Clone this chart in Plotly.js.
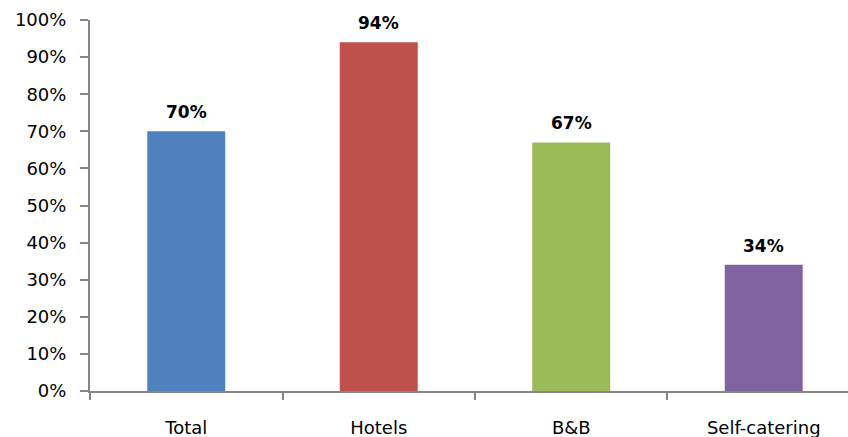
<!DOCTYPE html>
<html>
<head>
<meta charset="utf-8">
<script src="https://cdn.plot.ly/plotly-3.0.1.min.js"></script>
<style>html,body{margin:0;padding:0;background:#fff;}</style>
</head>
<body>
<div id="chart" style="width:848px;height:437px;"></div>
<script>
const categories = ["Total", "Hotels", "B&B", "Self-catering"];
const values = [70, 94, 67, 34];
const barColors = ["#4F81BD", "#C0504D", "#9BBB59", "#8064A2"];
const yTickVals = [0, 10, 20, 30, 40, 50, 60, 70, 80, 90, 100];

const trace = {
  type: "bar",
  x: categories,
  y: values,
  marker: {color: barColors},
  hoverinfo: "none"
};

const annotations = categories.map((c, i) => ({
  x: c,
  y: values[i],
  xref: "x",
  yref: "y",
  text: values[i] + "%",
  showarrow: false,
  yanchor: "bottom",
  yshift: 7,
  font: {family: "DejaVu Sans, sans-serif", size: 17, color: "#000", weight: "bold"}
}));

const layout = {
  width: 848,
  height: 437,
  margin: {l: 90, r: 0, t: 20, b: 46},
  paper_bgcolor: "#fff",
  plot_bgcolor: "#fff",
  showlegend: false,
  bargap: 0.595,
  annotations: annotations,
  font: {family: "DejaVu Sans, sans-serif", size: 18, color: "#000"},
  xaxis: {
    type: "category",
    range: [-0.5, 3.4377],
    showline: true,
    linecolor: "#868686",
    linewidth: 2,
    ticks: "outside",
    tickson: "boundaries",
    ticklen: 7,
    tickwidth: 2,
    tickcolor: "#868686",
    showgrid: false,
    zeroline: false,
    ticklabelstandoff: 19,
    tickfont: {family: "DejaVu Sans, sans-serif", size: 18, color: "#000"}
  },
  yaxis: {
    range: [0, 100],
    tickvals: yTickVals,
    ticktext: yTickVals.map(v => v + "%"),
    showline: true,
    linecolor: "#868686",
    linewidth: 2,
    ticks: "outside",
    ticklen: 8,
    tickwidth: 2,
    tickcolor: "#868686",
    showgrid: false,
    zeroline: false,
    ticklabelstandoff: 10,
    tickfont: {family: "DejaVu Sans, sans-serif", size: 18, color: "#000"}
  }
};

Plotly.newPlot("chart", [trace], layout, {staticPlot: true, displayModeBar: false});
</script>
</body>
</html>
